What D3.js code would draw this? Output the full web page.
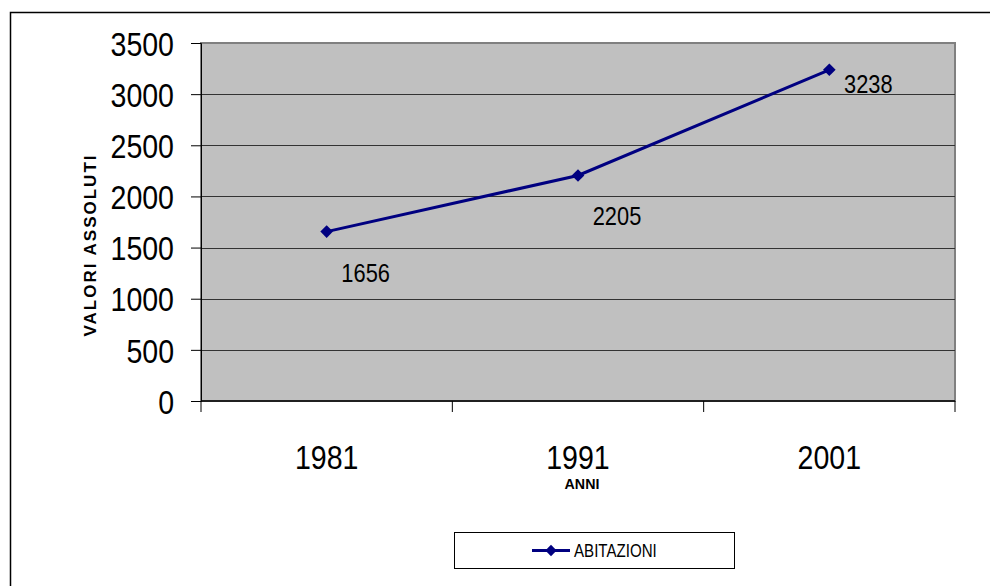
<!DOCTYPE html>
<html>
<head>
<meta charset="utf-8">
<script src="https://cdn.jsdelivr.net/npm/d3@7/dist/d3.min.js"></script>
<style>
  html, body { margin: 0; padding: 0; background: #fff; }
  svg { display: block; }
  text { font-family: "Liberation Sans", Arial, sans-serif; fill: #000; }
</style>
</head>
<body>
<svg id="chart" width="990" height="586"></svg>
<script>
// Abitazioni per anno di censimento
const categories = ["1981", "1991", "2001"];
const values = [1656, 2205, 3238];
const yTicks = [0, 500, 1000, 1500, 2000, 2500, 3000, 3500];
const seriesName = "ABITAZIONI";
const yTitle = "VALORI ASSOLUTI";
const xTitle = "ANNI";

const svg = d3.select("#chart");
const W = 990, H = 586;
const plot = { left: 201, top: 43, right: 955, bottom: 401 };
const navy = "#000080";
const NARROW = 0.84; // horizontal squeeze for the condensed face

// place a text at (px, py) with a horizontally condensed look
function narrowAt(sel, px, py, k = NARROW) {
  sel.attr("x", (d, i) => (typeof px === "function" ? px(d, i) : px) / k)
     .attr("y", (d, i) => (typeof py === "function" ? py(d, i) : py))
     .attr("transform", `scale(${k},1)`);
  return sel;
}

// outer chart frame (only top and left edges fall inside the page)
svg.append("path")
  .attr("d", `M10.5,${H} L10.5,12.5 L${W},12.5`)
  .attr("fill", "none").attr("stroke", "#000").attr("stroke-width", 1.5);

const x = d3.scaleBand().domain(categories).range([plot.left, plot.right]).padding(0);
const y = d3.scaleLinear().domain([0, 3500]).range([plot.bottom, plot.top]);
const cx = c => x(c) + x.bandwidth() / 2;

// plot area
svg.append("rect")
  .attr("x", plot.left).attr("y", plot.top)
  .attr("width", plot.right - plot.left).attr("height", plot.bottom - plot.top)
  .attr("fill", "#c0c0c0").attr("stroke", "#808080").attr("stroke-width", 2);

// horizontal gridlines
svg.append("g").selectAll("line")
  .data(yTicks.filter(t => t > 0 && t < 3500))
  .join("line")
  .attr("x1", plot.left).attr("x2", plot.right)
  .attr("y1", d => Math.round(y(d)) + 0.5).attr("y2", d => Math.round(y(d)) + 0.5)
  .attr("stroke", "#333").attr("stroke-width", 1);

// y axis
const yAxis = svg.append("g")
  .attr("transform", `translate(${plot.left},0)`)
  .call(d3.axisLeft(y).tickValues(yTicks).tickSize(10).tickFormat(d3.format("d")));
yAxis.select(".domain").attr("stroke", "#000").attr("stroke-width", 1);
yAxis.selectAll(".tick line").attr("stroke", "#000");
yAxis.selectAll(".tick text")
  .style("font-family", '"Liberation Sans", Arial, sans-serif')
  .attr("font-size", 34).attr("fill", "#000").attr("dy", "0.36em")
  .call(s => narrowAt(s, -27, 0));

// x axis with ticks at category boundaries
const xAxis = svg.append("g")
  .attr("transform", `translate(0,${plot.bottom})`);
xAxis.append("line")
  .attr("x1", plot.left).attr("x2", plot.right)
  .attr("stroke", "#000").attr("stroke-width", 1.5);
const bounds = categories.map(c => x(c)).concat([x(categories[categories.length - 1]) + x.bandwidth()]);
xAxis.selectAll("line.tick")
  .data(bounds).join("line").attr("class", "tick")
  .attr("x1", d => d).attr("x2", d => d).attr("y1", 0).attr("y2", 11)
  .attr("stroke", "#000");
xAxis.selectAll("text")
  .data(categories).join("text")
  .attr("text-anchor", "middle")
  .attr("font-size", 34)
  .attr("dy", "0.36em")
  .text(d => d)
  .call(s => narrowAt(s, d => cx(d), 56));

// axis titles
svg.append("text")
  .attr("transform", "translate(96,245) rotate(-90)")
  .attr("text-anchor", "middle")
  .attr("font-weight", "bold")
  .attr("font-size", 17)
  .attr("letter-spacing", 2)
  .text(yTitle);
svg.append("text")
  .attr("text-anchor", "middle")
  .attr("font-weight", "bold")
  .attr("font-size", 15)
  .text(xTitle)
  .call(s => narrowAt(s, cx(categories[1]) + 4, 489, 0.95));

// series line
const line = d3.line()
  .x((d, i) => cx(categories[i]))
  .y(d => y(d));
svg.append("path")
  .datum(values)
  .attr("d", line)
  .attr("fill", "none").attr("stroke", navy).attr("stroke-width", 3);

// diamond markers: squares turned by 45 degrees
const marker = d3.symbol().type(d3.symbolSquare).size(80);
svg.append("g").selectAll("path")
  .data(values).join("path")
  .attr("transform", (d, i) => `translate(${cx(categories[i])},${y(d)}) rotate(45)`)
  .attr("d", marker)
  .attr("fill", navy);

// value labels (below-right of each point; the top one is lifted to stay inside the plot)
const labelDy = [41, 40, 14];
svg.append("g").selectAll("text")
  .data(values).join("text")
  .attr("text-anchor", "middle")
  .attr("dy", "0.36em")
  .attr("font-size", 26)
  .text(d => d)
  .call(s => narrowAt(s, (d, i) => cx(categories[i]) + 39, (d, i) => y(d) + labelDy[i]));

// legend
const lg = svg.append("g").attr("transform", "translate(454,532)");
lg.append("rect").attr("x", 0.5).attr("y", 0.5).attr("width", 280).attr("height", 36)
  .attr("fill", "#fff").attr("stroke", "#000").attr("stroke-width", 1);
lg.append("line").attr("x1", 78).attr("x2", 116).attr("y1", 18.5).attr("y2", 18.5)
  .attr("stroke", navy).attr("stroke-width", 3);
lg.append("path").attr("transform", "translate(97,18.5) rotate(45)")
  .attr("d", d3.symbol().type(d3.symbolSquare).size(64)).attr("fill", navy);
lg.append("text").attr("dy", "0.36em")
  .attr("font-size", 18).text(seriesName)
  .call(s => narrowAt(s, 120, 18.5));
</script>
</body>
</html>
